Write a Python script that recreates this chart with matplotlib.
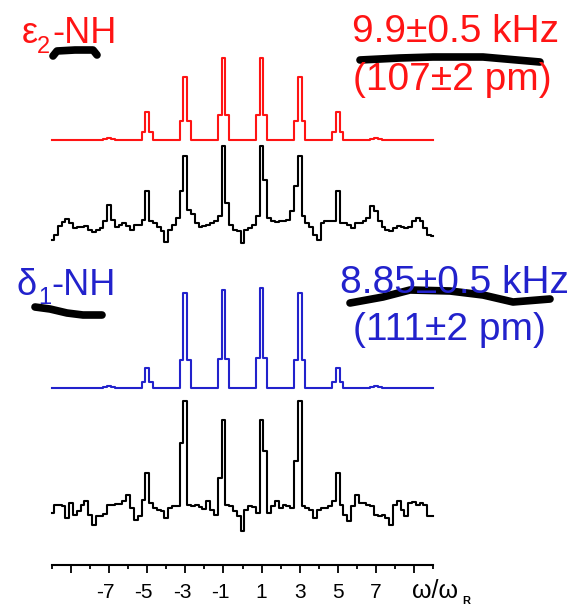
import numpy as np
import matplotlib
matplotlib.use('Agg')
import matplotlib.pyplot as plt
from matplotlib.transforms import ScaledTranslation

plt.rcParams['font.family'] = ['Liberation Sans', 'DejaVu Sans']

# sideband orders (omega/omega_R) and simulated intensities
peak_pos = [-7, -5, -3, -1, 1, 3, 5, 7]
red_heights = [2, 28, 63, 82, 82, 63, 28, 2]
blue_heights = [2, 20, 95, 98, 100, 95, 20, 2]
peak_shape = [0.3, 1.0, 0.3]

# experimental traces, sampled every 0.2 from -10 to 10
u = np.round(np.linspace(-10, 10, 101), 2)
exp_eps = [-12, -7, 2, 6, 9, 5, 0, 1, 1, 2,
           -2, -4, -2, 0, 7, 23, 8, 1, 3, 5,
           2, -2, 3, 3, 8, 37, 7, 5, 1, -3,
           -14, -2, 3, 10, 37, 72, 18, 14, 5, 1,
           2, 3, 5, 7, 12, 82, 25, 3, -2, -3,
           -15, -2, 0, 3, 12, 82, 48, 10, 7, 6,
           7, 7, 8, 17, 42, 72, 12, 5, 1, -7,
           -12, 5, 7, 7, 7, 37, 5, 5, 3, 0,
           5, 5, 7, 10, 22, 17, 7, 1, -2, -3,
           0, 2, 1, 0, 1, 7, 10, 7, 0, -7, -8]
exp_del = [-5, 3, 3, 2, -10, 5, -7, -3, 3, 7,
           -7, -17, -8, -8, -6, 3, 3, 4, 4, 7,
           13, 0, -12, -8, 8, 35, 5, 0, -2, -3,
           -10, 0, 2, 2, 65, 107, 3, 2, 3, 1,
           -1, 7, -2, -7, 30, 88, 3, 2, -3, -8,
           -23, -2, 2, 1, -5, 88, 57, -5, 2, 7,
           0, 3, 2, 0, 47, 107, 2, 0, -2, -10,
           -2, 0, 0, 2, 7, 35, 3, -7, -13, 2,
           13, 5, 5, 3, 2, -7, -8, -7, -10, -17,
           3, 7, -2, -8, 5, 6, 3, 5, 3, -8, -8]

tick_major = [-9, -7, -5, -3, -1, 1, 3, 5, 7, 9]
tick_labels = ['', '-7', '-5', '-3', '-1', '1', '3', '5', '7', '']
tick_minor = [-10, -8, -6, -4, -2, 0, 2, 4, 6, 8, 10]

RED = '#ff1414'
BLUE = '#2222cc'
W, H = 582, 605
X0, SCALE = 242.5, 19.05  # pixel of omega=0, pixels per unit


def simulate(heights):
    s = np.zeros(len(u))
    for p, h in zip(peak_pos, heights):
        k = int(round((p + 10) / 0.2))
        s[k - 1:k + 2] += h * np.array(peak_shape)
    return s


fig = plt.figure(figsize=(W / 100, H / 100), dpi=100)
ax = fig.add_axes([0, 0, 1, 1])
ax.set_xlim(-X0 / SCALE, (W - X0) / SCALE)
ax.set_ylim(H, 0)
ax.patch.set_alpha(0)

# stacked spectra (baseline positions in pixels)
ax.plot(u, 140 - simulate(red_heights), color=RED, lw=1.5, drawstyle='steps-mid')
ax.plot(u, 228 - np.array(exp_eps), color='black', lw=1.5, drawstyle='steps-mid')
ax.plot(u, 388 - simulate(blue_heights), color=BLUE, lw=1.5, drawstyle='steps-mid')
ax.plot(u, 508 - np.array(exp_del), color='black', lw=1.5, drawstyle='steps-mid')

# bottom ruler
for side in ['top', 'left', 'right']:
    ax.spines[side].set_visible(False)
ax.spines['bottom'].set_position(('data', 565))
ax.spines['bottom'].set_bounds(-10, 10)
ax.spines['bottom'].set_linewidth(1.5)
ax.set_yticks([])
ax.set_xticks(tick_major, tick_labels)
ax.set_xticks(tick_minor, minor=True)
ax.tick_params(axis='x', which='major', length=6, width=1.3, pad=7, labelsize=15)
ax.tick_params(axis='x', which='minor', length=3, width=1.3)
shift = ScaledTranslation(0.058, 0, fig.dpi_scale_trans)
for lab in ax.get_xticklabels():
    lab.set_horizontalalignment('right')
    lab.set_transform(lab.get_transform() + shift)

# annotation layer in pixel units
ann = fig.add_axes([0, 0, 1, 1])
ann.set_xlim(0, W)
ann.set_ylim(H, 0)
ann.axis('off')
ann.patch.set_alpha(0)

big = 28
lab_size = 26
ann.text(22, 43, 'ε', color=RED, fontsize=lab_size)
ann.text(37, 53, '2', color=RED, fontsize=17)
ann.text(52, 43, '-NH', color=RED, fontsize=lab_size)
ann.text(352, 42, '9.9±0.5 kHz', color=RED, fontsize=big)
ann.text(353, 90, '(107±2 pm)', color=RED, fontsize=big)

ann.text(16, 295, 'δ', color=BLUE, fontsize=lab_size)
ann.text(38, 304, '1', color=BLUE, fontsize=17)
ann.text(51, 295, '-NH', color=BLUE, fontsize=lab_size)
ann.text(340, 293, '8.85±0.5 kHz', color=BLUE, fontsize=big)
ann.text(353, 340, '(111±2 pm)', color=BLUE, fontsize=big)

ann.text(412, 598, 'ω/ω', color='black', fontsize=18)
ann.text(462, 604, 'R', color='black', fontsize=8, fontweight='bold')

# hand-drawn marker strokes
strokes = [
    ([53, 57, 75, 93, 97], [56, 51, 50, 50, 55]),
    ([360, 400, 433, 483, 517, 540], [60, 58, 57, 57, 60, 62]),
    ([35, 50, 67, 83, 102], [307, 309, 313, 315, 315]),
    ([350, 383, 410, 450, 483, 513, 550], [303, 297, 290, 291, 295, 302, 299]),
]
for sx, sy in strokes:
    ann.plot(sx, sy, color='black', lw=5.5, solid_capstyle='round', solid_joinstyle='round')

fig.savefig('out.png', dpi=100)
